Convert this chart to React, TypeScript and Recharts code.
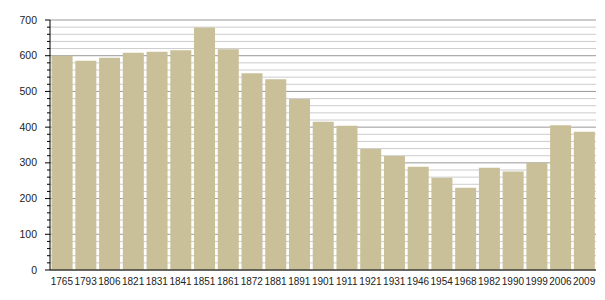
import React from 'react';
import { BarChart, Bar, XAxis, YAxis, CartesianGrid } from 'recharts';

if (typeof document !== 'undefined') document.body.style.margin = '0';

const years = [
  '1765', '1793', '1806', '1821', '1831', '1841', '1851', '1861', '1872', '1881', '1891', '1901',
  '1911', '1921', '1931', '1946', '1954', '1968', '1982', '1990', '1999', '2006', '2009',
];
const population = [
  600, 586, 594, 608, 611, 615, 679, 618, 551, 534, 479, 415,
  404, 339, 319, 289, 258, 230, 286, 276, 300, 405, 387,
];
const yTicks = Array.from({ length: 36 }, (_, i) => i * 20);
const minorTicks = yTicks.filter((t) => t % 100 !== 0);
const majorTicks = yTicks.filter((t) => t % 100 === 0);

const data = years.map((year, i) => ({ year, value: population[i] }));

const YTick = (props: any) => {
  const { x, y, payload } = props;
  const major = payload.value % 100 === 0;
  return (
    <g>
      <line x1={x - (major ? 5 : 3)} x2={x} y1={y} y2={y} stroke="#000" strokeWidth={1} />
      {major && (
        <text x={x - 13} y={y} dy={3.5} textAnchor="end" fontSize={10.5} fill="#222" fontFamily="Liberation Sans, Arial, sans-serif">
          {payload.value}
        </text>
      )}
    </g>
  );
};

const App: React.FC = () => (
  <div style={{ width: 605, height: 300, background: '#fff' }}>
    <BarChart width={605} height={300} data={data} margin={{ top: 20, right: 9, bottom: 10, left: 0 }} barCategoryGap={1.6}>
      <CartesianGrid vertical={false} horizontalValues={minorTicks} stroke="#ccc" />
      <CartesianGrid vertical={false} horizontalValues={majorTicks} stroke="#999" />
      <XAxis
        dataKey="year"
        interval={0}
        height={20}
        tickLine={false}
        axisLine={{ stroke: '#000' }}
        tickMargin={2}
        tick={{ fontSize: 10, fill: '#222', fontFamily: 'Liberation Sans, Arial, sans-serif' }}
      />
      <YAxis
        width={50}
        domain={[0, 700]}
        ticks={yTicks}
        interval={0}
        tickSize={0}
        tickMargin={0}
        tickLine={false}
        axisLine={{ stroke: '#000' }}
        tick={<YTick />}
      />
      <Bar dataKey="value" fill="#c9bf98" isAnimationActive={false} />
    </BarChart>
  </div>
);

export default App;
